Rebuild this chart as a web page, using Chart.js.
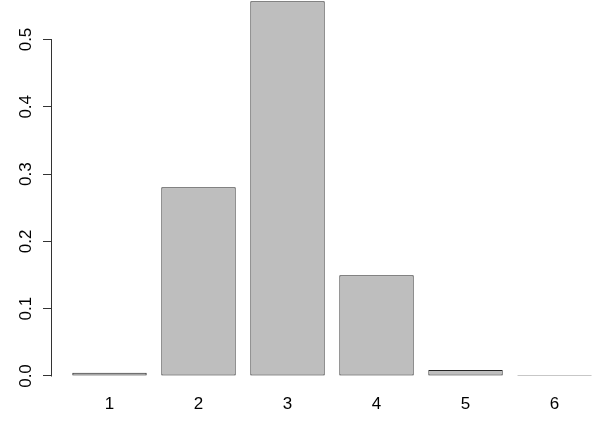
<!DOCTYPE html>
<html>
<head>
<meta charset="utf-8">
<script src="https://cdn.jsdelivr.net/npm/chart.js@4/dist/chart.umd.min.js"></script>
<style>
  html, body { margin: 0; padding: 0; background: #fff; }
  #wrap { width: 613px; height: 432px; position: relative; }
</style>
</head>
<body>
<div id="wrap"><canvas id="c" width="613" height="432"></canvas></div>
<script>
// Data
const categories = ['1', '2', '3', '4', '5', '6'];
const values = [0.0049, 0.2804, 0.5570, 0.1496, 0.0089, 0.0004];
const yTickStep = 0.1;

const barPositions = categories.map((c, i) => i + 1);

const axisLine = {
  id: 'axisLine',
  afterDraw(chart) {
    const ys = chart.scales.y;
    const t = ys.ticks;
    if (!t.length) return;
    const ctx = chart.ctx;
    const x = chart.chartArea.left - 0.5;
    ctx.save();
    ctx.strokeStyle = '#333';
    ctx.lineWidth = 1;
    ctx.beginPath();
    ctx.moveTo(x, Math.round(ys.getPixelForValue(t[0].value)) + 0.5);
    ctx.lineTo(x, Math.round(ys.getPixelForValue(t[t.length - 1].value)) - 0.5);
    ctx.stroke();
    ctx.restore();
  }
};

const noPad = s => { s.paddingTop = 0; s.paddingBottom = 0; s.paddingLeft = 0; s.paddingRight = 0; };

new Chart(document.getElementById('c'), {
  type: 'bar',
  data: {
    datasets: [{
      data: values.map((v, i) => ({ x: barPositions[i], y: v })),
      backgroundColor: '#bebebe',
      borderColor: '#222',
      borderWidth: 1,
      borderSkipped: false,
      minBarLength: 1,
      categoryPercentage: 1,
      barPercentage: 0.836
    }]
  },
  options: {
    responsive: false,
    animation: false,
    events: [],
    layout: { padding: 0 },
    plugins: { legend: { display: false }, tooltip: { enabled: false } },
    scales: {
      x: {
        type: 'linear',
        offset: false,
        min: 0.354,
        max: 6.657,
        grid: { display: false, drawTicks: false },
        border: { display: false },
        afterBuildTicks: s => { s.ticks = barPositions.map(v => ({ value: v })); },
        afterFit: s => { s.height = 41; noPad(s); },
        ticks: {
          padding: 3.5,
          color: '#000',
          font: { family: '"Liberation Sans", Arial, sans-serif', size: 17 },
          callback: (v) => categories[barPositions.indexOf(v)] ?? ''
        }
      },
      y: {
        type: 'linear',
        min: -0.0223,
        max: 0.5587,
        grid: { display: true, drawOnChartArea: false, drawTicks: true, tickLength: 9, color: '#333', lineWidth: 1 },
        border: { display: false },
        afterFit: s => { s.width = 52; noPad(s); },
        ticks: {
          stepSize: yTickStep,
          includeBounds: false,
          minRotation: 90,
          maxRotation: 90,
          crossAlign: 'center',
          padding: 5,
          color: '#000',
          font: { family: '"Liberation Sans", Arial, sans-serif', size: 17 },
          callback: v => Number(v).toFixed(1)
        }
      }
    }
  },
  plugins: [axisLine]
});
</script>
</body>
</html>
